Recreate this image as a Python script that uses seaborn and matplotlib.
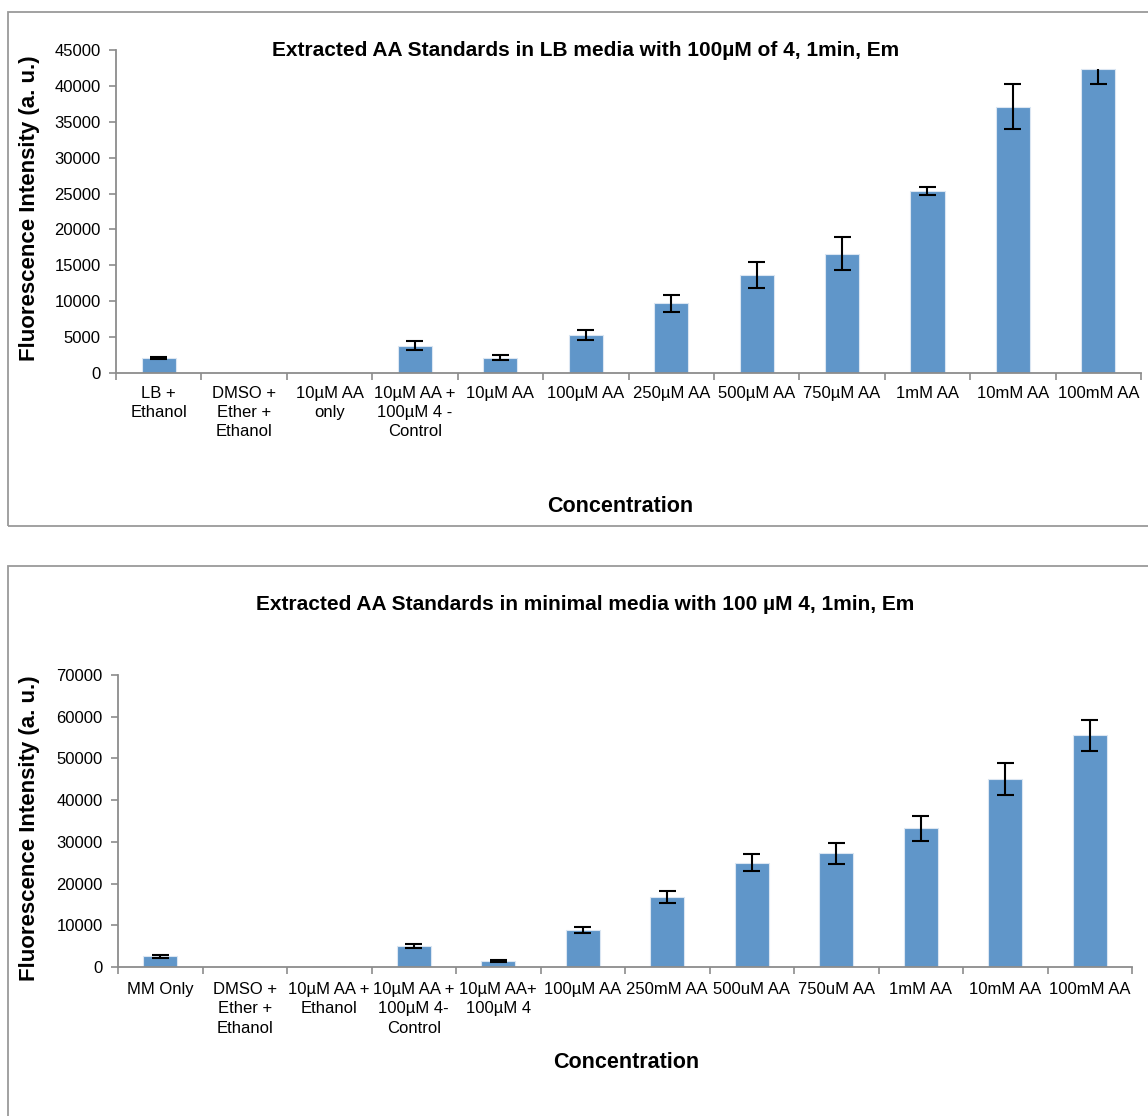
import numpy as np
import pandas as pd
import matplotlib
matplotlib.use('Agg')
import matplotlib.pyplot as plt
from matplotlib.patches import Rectangle
import seaborn as sns

# Top chart: LB media
lb_labels = ['LB +\nEthanol', 'DMSO +\nEther +\nEthanol', '10µM AA\nonly',
             '10µM AA +\n100µM 4 -\nControl', '10µM AA', '100µM AA', '250µM AA',
             '500µM AA', '750µM AA', '1mM AA', '10mM AA', '100mM AA']
lb_values = [2100, 60, 60, 3800, 2100, 5300, 9700, 13700, 16600, 25300, 37100, 42300]
lb_err_low = [120, 0, 0, 650, 350, 700, 1150, 1800, 2300, 550, 3100, 2000]
lb_err_high = [120, 0, 0, 650, 350, 700, 1150, 1800, 2300, 550, 3100, 0]

# Bottom chart: minimal media
mm_labels = ['MM Only', 'DMSO +\nEther +\nEthanol', '10µM AA +\nEthanol',
             '10µM AA +\n100µM 4-\nControl', '10µM AA+\n100µM 4', '100µM AA', '250mM AA',
             '500uM AA', '750uM AA', '1mM AA', '10mM AA', '100mM AA']
mm_values = [2600, 100, 100, 5000, 1400, 8800, 16800, 25000, 27300, 33300, 45000, 55600]
mm_err = [350, 0, 0, 450, 250, 700, 1500, 2000, 2500, 3000, 3800, 3700]

bar_color = '#6096C9'
axis_gray = '#8c8c8c'
plt.rcParams['font.family'] = ['Liberation Sans', 'DejaVu Sans']

fig = plt.figure(figsize=(11.48, 11.16), dpi=100)

# outer chart frames like the spreadsheet export
fig.patches.append(Rectangle((8 / 1148, 1 - 526 / 1116), 1.2, 514 / 1116, transform=fig.transFigure,
                             fill=False, edgecolor='#9a9a9a', linewidth=1.3))
fig.patches.append(Rectangle((8 / 1148, -0.1), 1.2, 1 - 566 / 1116 + 0.1, transform=fig.transFigure,
                             fill=False, edgecolor='#9a9a9a', linewidth=1.3))


def draw_panel(ax, labels, values, lo, hi, ymax, ystep, pad):
    df = pd.DataFrame({'label': labels, 'value': values})
    sns.barplot(data=df, x='label', y='value', color=bar_color, width=0.4,
                saturation=1, edgecolor='#dbe6f2', linewidth=0.8, ax=ax)
    x = np.arange(len(values))
    v = np.array(values)
    lo = np.array(lo)
    hi = np.array(hi)
    has = (lo + hi) > 0
    ax.vlines(x[has], (v - lo)[has], (v + hi)[has], color='black', linewidth=1.5, zorder=3)
    ax.hlines((v - lo)[has], x[has] - 0.1, x[has] + 0.1, color='black', linewidth=1.5, zorder=3)
    top = has & (hi > 0)
    ax.hlines((v + hi)[top], x[top] - 0.1, x[top] + 0.1, color='black', linewidth=1.5, zorder=3)

    ax.set_xlim(-0.5, len(values) - 0.5)
    ax.set_ylim(0, ymax)
    ax.set_yticks(np.arange(0, ymax + 1, ystep))
    ax.set_xticks(np.arange(-0.5, len(values), 1.0))
    ax.set_xticklabels([])
    ax.set_xticks(x, minor=True)
    ax.set_xticklabels(labels, minor=True, fontsize=12, linespacing=1.35)
    ax.tick_params(axis='x', which='minor', length=0, pad=pad)
    ax.tick_params(axis='x', which='major', length=5, width=1.2, color=axis_gray)
    ax.tick_params(axis='y', length=5, width=1.2, color=axis_gray, labelsize=12, pad=6)
    ax.set_xlabel('')
    ax.set_ylabel('')
    for s in ['top', 'right']:
        ax.spines[s].set_visible(False)
    for s in ['left', 'bottom']:
        ax.spines[s].set_color(axis_gray)
        ax.spines[s].set_linewidth(1.3)
    ax.set_facecolor('none')


ax1 = fig.add_axes([116 / 1148, 1 - 373 / 1116, 1025 / 1148, 323 / 1116])
draw_panel(ax1, lb_labels, lb_values, lb_err_low, lb_err_high, 45000, 5000, 9)

ax2 = fig.add_axes([118 / 1148, 1 - 967 / 1116, 1014 / 1148, 292 / 1116])
draw_panel(ax2, mm_labels, mm_values, mm_err, mm_err, 70000, 10000, 11)

fig.text(586 / 1148, 1 - 50 / 1116, 'Extracted AA Standards in LB media with 100µM of 4, 1min, Em',
         ha='center', va='center', fontsize=15, fontweight='bold')
fig.text(585 / 1148, 1 - 605 / 1116, 'Extracted AA Standards in minimal media with 100 µM 4, 1min, Em',
         ha='center', va='center', fontsize=15, fontweight='bold')

fig.text(620 / 1148, 1 - 506 / 1116, 'Concentration', ha='center', va='center',
         fontsize=15.5, fontweight='bold')
fig.text(626 / 1148, 1 - 1063 / 1116, 'Concentration', ha='center', va='center',
         fontsize=15.5, fontweight='bold')

fig.text(30 / 1148, 1 - 208 / 1116, 'Fluorescence Intensity (a. u.)', ha='center', va='center',
         rotation=90, fontsize=16, fontweight='bold')
fig.text(30 / 1148, 1 - 828 / 1116, 'Fluorescence Intensity (a. u.)', ha='center', va='center',
         rotation=90, fontsize=16, fontweight='bold')

fig.savefig('out.png', dpi=100, facecolor='white')
